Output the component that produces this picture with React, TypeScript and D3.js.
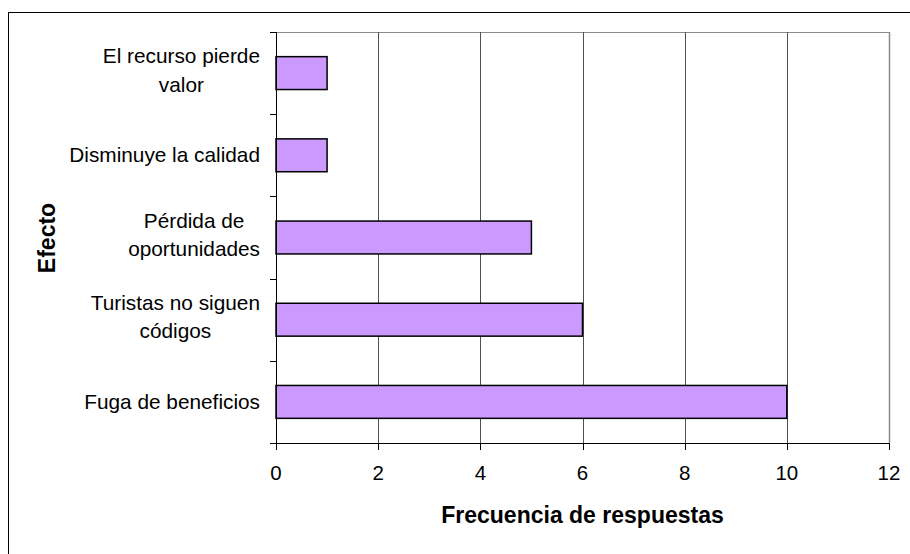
import React, { useMemo } from 'react';
import * as d3 from 'd3';

const categories = [
  'El recurso pierde valor',
  'Disminuye la calidad',
  'Pérdida de oportunidades',
  'Turistas no siguen códigos',
  'Fuga de beneficios',
];
const labelLines = [
  ['El recurso pierde', 'valor'],
  ['Disminuye la calidad'],
  ['Pérdida de', 'oportunidades'],
  ['Turistas no siguen', 'códigos'],
  ['Fuga de beneficios'],
];
const values = [1, 1, 5, 6, 10];
const xTicks = [0, 2, 4, 6, 8, 10, 12];

const FONT = '"Liberation Sans", Arial, sans-serif';
const LABEL_SIZE = 20.8;

export default function App() {
  const width = 910;
  const height = 554;
  const left = 276;
  const right = 889;
  const top = 32;
  const bottom = 443;

  const x = d3.scaleLinear().domain([0, 12]).range([left, right]);
  const y = d3
    .scaleBand<string>()
    .domain(categories)
    .range([top, bottom])
    .paddingInner(0.6)
    .paddingOuter(0.3);
  const step = y.step();

  // widest line of each label, so wrapped lines sit centred on each other
  const widths = useMemo(() => {
    const ctx = document.createElement('canvas').getContext('2d');
    if (!ctx) return labelLines.map(() => 180);
    ctx.font = `${LABEL_SIZE}px ${FONT}`;
    return labelLines.map((lines) => d3.max(lines, (l) => ctx.measureText(l).width) || 0);
  }, []);

  const boundaries = d3.range(categories.length + 1).map((i) => top + i * step);

  return (
    <svg
      width={width}
      height={height}
      style={{ position: 'absolute', left: 0, top: 0, background: '#fff' }}
      fontFamily={FONT}
    >
      <rect x={8.5} y={12.5} width={1000} height={1000} fill="none" stroke="#000" strokeWidth={1} />

      {/* plot frame */}
      <line x1={left} x2={right} y1={top + 0.5} y2={top + 0.5} stroke="#8a8a8a" />
      <line x1={right + 0.5} x2={right + 0.5} y1={top} y2={bottom} stroke="#8a8a8a" strokeWidth={1.5} />

      {/* vertical grid */}
      {xTicks.slice(1, -1).map((t) => (
        <line
          key={t}
          x1={Math.round(x(t)) + 0.5}
          x2={Math.round(x(t)) + 0.5}
          y1={top}
          y2={bottom}
          stroke="#505050"
        />
      ))}

      {/* bars */}
      {categories.map((c, i) => (
        <rect
          key={c}
          x={x(0)}
          y={y(c)}
          width={x(values[i]) - x(0)}
          height={y.bandwidth()}
          fill="#CC99FF"
          stroke="#000"
          strokeWidth={1.5}
        />
      ))}

      {/* axes */}
      <line x1={left + 0.5} x2={left + 0.5} y1={top} y2={bottom} stroke="#000" />
      <line x1={left - 6} x2={right + 1} y1={bottom + 0.5} y2={bottom + 0.5} stroke="#000" />
      {boundaries.map((b, i) => (
        <line key={i} x1={left - 6} x2={left} y1={Math.round(b) + 0.5} y2={Math.round(b) + 0.5} stroke="#000" />
      ))}
      {xTicks.map((t) => (
        <g key={t}>
          <line
            x1={Math.round(x(t)) + 0.5}
            x2={Math.round(x(t)) + 0.5}
            y1={bottom}
            y2={bottom + 7}
            stroke="#000"
          />
          <text x={x(t)} y={480} textAnchor="middle" fontSize={20.5} fill="#000">
            {t}
          </text>
        </g>
      ))}

      {/* category labels */}
      {categories.map((c, i) => {
        const lines = labelLines[i];
        const cy = (y(c) || 0) + y.bandwidth() / 2;
        const cx = 260 - widths[i] / 2;
        const lh = 28.5;
        const start = cy - ((lines.length - 1) * lh) / 2 - (lines.length > 1 ? 2.5 : 0);
        return (
          <text key={c} textAnchor="middle" fontSize={LABEL_SIZE} fill="#000">
            {lines.map((l, j) => (
              <tspan key={j} x={cx} y={start + j * lh + 7}>
                {l}
              </tspan>
            ))}
          </text>
        );
      })}

      {/* axis titles */}
      <text
        x={(left + right) / 2}
        y={523}
        textAnchor="middle"
        fontSize={23}
        fontWeight="bold"
        fill="#000"
      >
        Frecuencia de respuestas
      </text>
      <text
        transform="translate(55,238) rotate(-90)"
        textAnchor="middle"
        fontSize={23}
        fontWeight="bold"
        fill="#000"
      >
        Efecto
      </text>
    </svg>
  );
}
